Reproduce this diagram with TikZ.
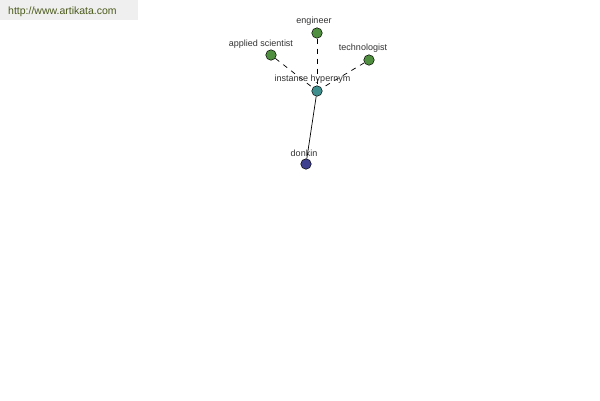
\documentclass[tikz,border=0pt]{standalone}
\usepackage{fontspec}
\setmainfont{Liberation Sans}
\definecolor{hdrfill}{HTML}{EFEFEF}
\definecolor{hdrtext}{HTML}{4A5A1A}
\definecolor{gnode}{HTML}{4F8F3F}
\definecolor{tnode}{HTML}{3F8F8F}
\definecolor{bnode}{HTML}{3F3F8F}
\definecolor{lbl}{HTML}{333333}
\begin{document}
\begin{tikzpicture}[x=1pt,y=-1pt,
  dot/.style={circle,draw=black,line width=0.5pt,minimum size=10.5pt,inner sep=0pt},
  lab/.style={font=\fontsize{9}{10}\selectfont,text=lbl,inner sep=0pt},
  rel/.style={draw=black,line width=0.7pt,dash pattern=on 5pt off 5pt},
  hyp/.style={draw=black,line width=0.7pt}]
\useasboundingbox (0,0) rectangle (600,400);
\fill[white] (0,0) rectangle (600,400);
\fill[hdrfill] (0,0) rectangle (138,20);
\node[font=\fontsize{10.5}{12}\selectfont,text=hdrtext,anchor=west,inner sep=0pt] (hdr) at (8,11.5) {http://www.artikata.com};
\node[dot,fill=tnode] (hub) at (317,91) {};
\node[dot,fill=gnode] (eng) at (317,33) {};
\node[dot,fill=gnode] (app) at (271,55) {};
\node[dot,fill=gnode] (tech) at (369,60) {};
\node[dot,fill=bnode] (don) at (306,164) {};
\draw[rel] (eng) -- (hub);
\draw[rel] (app) -- (hub);
\draw[rel] (tech) -- (hub);
\draw[hyp] (hub) -- (don);
\node[lab] (leng) at (314,21.5) {engineer};
\node[lab] (lapp) at (261,44) {applied scientist};
\node[lab] (ltech) at (363,48.5) {technologist};
\node[lab] (lhub) at (312.5,79.5) {instance hypernym};
\node[lab] (ldon) at (304,153) {donkin};
\end{tikzpicture}
\end{document}
